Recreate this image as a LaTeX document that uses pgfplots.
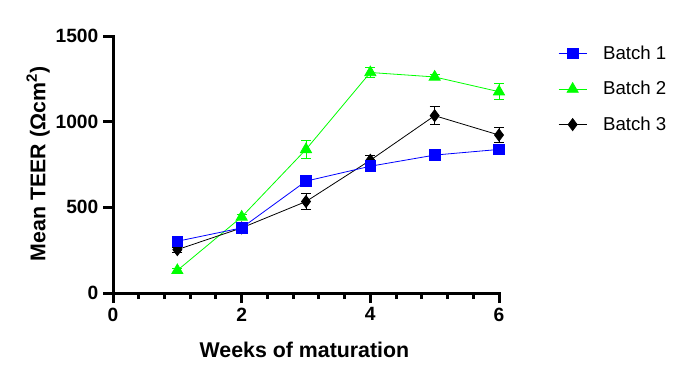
\documentclass[border=0pt]{standalone}
\usepackage{fontspec}
\setmainfont{Liberation Sans}
\usepackage{pgfplots}
\pgfplotsset{compat=1.18}
\definecolor{bblue}{RGB}{0,0,255}
\definecolor{bgreen}{RGB}{0,255,0}
\begin{document}
\begin{tikzpicture}
\path[use as bounding box] (0,0) rectangle (519pt,-286.5pt);
\begin{axis}[
  at={(84.75pt,-219.75pt)}, anchor=south west,
  scale only axis, width=289.5pt, height=192.75pt,
  xmin=0, xmax=6, ymin=0, ymax=1500,
  axis x line*=bottom, axis y line*=left,
  axis line style={line width=2.25pt, line cap=rect},
  xtick={0,2,4,6}, ytick={0,500,1000,1500},
  minor x tick num=4,
  tick align=outside,
  major tick length=7.5pt, minor tick length=4.5pt,
  every tick/.style={black, line width=2.25pt},
  tick label style={font=\fontsize{14.4}{17}\selectfont\bfseries},
  /pgf/number format/assume math mode=true,
  /pgf/number format/1000 sep={},
  xlabel={Weeks of maturation},
  ylabel={Mean TEER (Ωcm\textsuperscript{2})},
  label style={font=\fontsize{16}{19}\selectfont\bfseries},
  xlabel style={at={(axis description cs:0.496,-0.25)}, anchor=base},
  ylabel style={at={(axis description cs:-0.194,0.502)}, anchor=center, rotate=0},
  clip=false,
  legend style={at={(axis description cs:1.1528,0.963)}, anchor=north west, draw=none, fill=none, inner sep=0pt,
    row sep=15pt, font=\fontsize{14}{16}\selectfont,
    nodes={inner sep=0pt}},
  legend cell align=left,
  /tikz/every odd column/.style={column sep=12pt},
  legend image code/.code={\draw[mark repeat=2,mark phase=2,#1] plot coordinates {(0pt,0pt) (10.5pt,0pt) (21pt,0pt)};},
  error bars/error bar style={line width=0.75pt},
  error bars/error mark options={rotate=90, mark size=3.75pt, line width=0.75pt},
]
\addlegendimage{bblue, line width=0.6pt, mark=square*, mark size=4pt, mark options={fill=bblue}}
\addlegendentry{Batch 1}
\addlegendimage{bgreen, line width=0.6pt, mark=triangle*, mark size=4.8pt, mark options={fill=bgreen}}
\addlegendentry{Batch 2}
\addlegendimage{black, line width=0.6pt, mark=diamond*, mark size=4.5pt, mark options={fill=black}}
\addlegendentry{Batch 3}

\addplot[forget plot, bgreen, line width=0.6pt, mark=triangle*, mark size=4.8pt, mark options={fill=bgreen},
  error bars/.cd, y dir=both, y explicit]
  coordinates {(1,132) +- (0,10) (2,444) +- (0,15) (3,838) +- (0,52) (4,1287) +- (0,30) (5,1261) +- (0,12) (6,1175) +- (0,46)};
\addplot[forget plot, black, line width=0.6pt, mark=diamond*, mark size=4.5pt, mark options={fill=black},
  error bars/.cd, y dir=both, y explicit]
  coordinates {(1,253) +- (0,15) (2,380) +- (0,15) (3,534) +- (0,46) (4,775) +- (0,25) (5,1035) +- (0,53) (6,922) +- (0,46)};
\addplot[forget plot, bblue, line width=0.6pt, mark=square*, mark size=4pt, mark options={fill=bblue},
  error bars/.cd, y dir=both, y explicit]
  coordinates {(1,302) +- (0,12) (2,380) +- (0,12) (3,653) +- (0,15) (4,740) +- (0,15) (5,805) +- (0,12) (6,838) +- (0,15)};
\end{axis}
\end{tikzpicture}
\end{document}
